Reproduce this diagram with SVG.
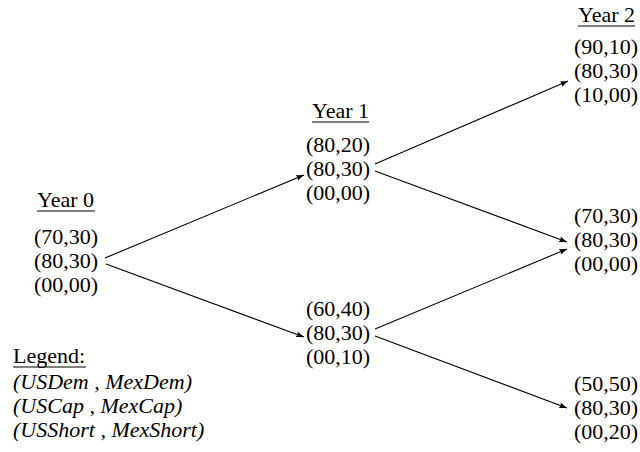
<svg xmlns="http://www.w3.org/2000/svg" width="640" height="452" viewBox="0 0 640 452">
  <style>
    text { font-family: "Liberation Serif", "Times New Roman", serif; font-size: 22px; fill: #000; }
    .leg { font-style: italic; }
    .ul { stroke: #000; stroke-width: 1.2; }
    .edge { stroke: #000; stroke-width: 1.1; fill: none; marker-end: url(#arrow); }
  </style>
  <defs>
    <marker id="arrow" markerUnits="userSpaceOnUse" markerWidth="9" markerHeight="7" refX="8" refY="3" orient="auto">
      <path d="M0,0 L8,3 L0,6 L1.5,3 Z" fill="#000"/>
    </marker>
  </defs>

  <rect width="640" height="452" fill="#fff"/>

  <!-- connectors -->
  <g id="edges">
    <line class="edge" x1="105" y1="258" x2="304" y2="175"/>
    <line class="edge" x1="106" y1="264" x2="304" y2="337"/>
    <line class="edge" x1="375" y1="164" x2="568" y2="81"/>
    <line class="edge" x1="375" y1="171" x2="567" y2="242"/>
    <line class="edge" x1="375" y1="329" x2="567" y2="249"/>
    <line class="edge" x1="375" y1="336" x2="567" y2="408"/>
  </g>

  <!-- year 0 state -->
  <g id="year0">
    <text x="37" y="207">Year 0</text>
    <line class="ul" x1="37" y1="211" x2="95" y2="211"/>
    <text x="34" y="244">(70,30)</text>
    <text x="34" y="268">(80,30)</text>
    <text x="34" y="292">(00,00)</text>
  </g>

  <!-- year 1 states -->
  <g id="year1-top">
    <text x="312" y="118">Year 1</text>
    <line class="ul" x1="312" y1="122" x2="369" y2="122"/>
    <text x="306" y="152">(80,20)</text>
    <text x="306" y="176">(80,30)</text>
    <text x="306" y="200">(00,00)</text>
  </g>
  <g id="year1-bottom">
    <text x="306" y="316">(60,40)</text>
    <text x="306" y="340">(80,30)</text>
    <text x="306" y="364">(00,10)</text>
  </g>

  <!-- year 2 states -->
  <g id="year2-top">
    <text x="578" y="22">Year 2</text>
    <line class="ul" x1="578" y1="26" x2="635" y2="26"/>
    <text x="574" y="54">(90,10)</text>
    <text x="574" y="78">(80,30)</text>
    <text x="574" y="102">(10,00)</text>
  </g>
  <g id="year2-middle">
    <text x="574" y="223">(70,30)</text>
    <text x="574" y="247">(80,30)</text>
    <text x="574" y="271">(00,00)</text>
  </g>
  <g id="year2-bottom">
    <text x="574" y="391">(50,50)</text>
    <text x="574" y="415">(80,30)</text>
    <text x="574" y="439">(00,20)</text>
  </g>

  <!-- legend -->
  <g id="legend">
    <text x="13" y="363">Legend:</text>
    <line class="ul" x1="13" y1="367" x2="86" y2="367"/>
    <text class="leg" x="13" y="389">(USDem , MexDem)</text>
    <text class="leg" x="13" y="413">(USCap , MexCap)</text>
    <text class="leg" x="13" y="437">(USShort , MexShort)</text>
  </g>
</svg>
